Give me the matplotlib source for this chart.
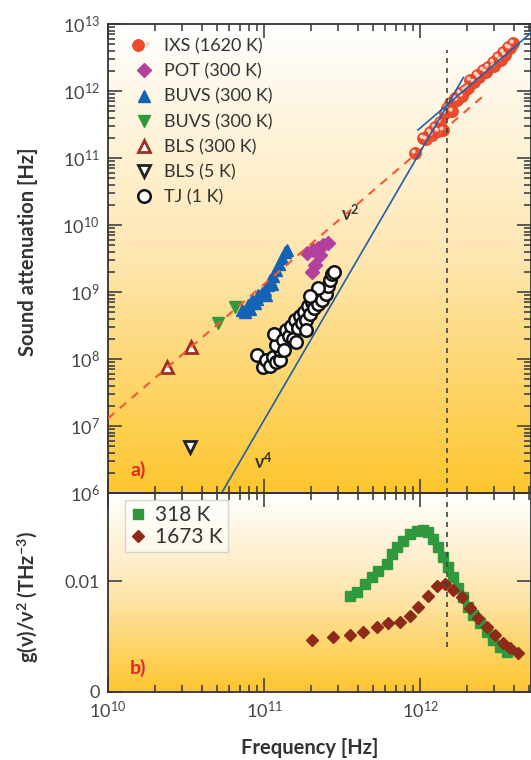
import numpy as np
import matplotlib.pyplot as plt
from matplotlib.colors import LinearSegmentedColormap
from matplotlib.legend_handler import HandlerTuple
from matplotlib.markers import MarkerStyle
from matplotlib.transforms import Affine2D
from matplotlib.ticker import LogLocator, NullFormatter, FixedLocator, NullLocator

plt.rcParams['font.family'] = ['Lato', 'DejaVu Sans']
plt.rcParams['font.size'] = 13
plt.rcParams['mathtext.fontset'] = 'custom'
plt.rcParams['mathtext.rm'] = 'Lato'
plt.rcParams['mathtext.it'] = 'Lato:italic'
plt.rcParams['mathtext.bf'] = 'Lato:bold'

# ---------------------------------------------------------------------------
# (a) sound attenuation vs frequency

# IXS (1620 K)
ixs_f = np.array([9.3e11, 1.045e12, 1.16e12, 1.25e12, 1.34e12, 1.40e12, 1.44e12,
                  1.50e12, 1.55e12, 1.60e12, 1.67e12, 1.74e12, 1.80e12, 1.94e12,
                  2.02e12, 2.09e12, 2.23e12, 2.32e12, 2.40e12, 2.53e12, 2.65e12,
                  2.73e12, 2.94e12, 3.00e12, 3.16e12, 3.30e12, 3.40e12, 3.50e12,
                  3.66e12, 3.80e12, 3.95e12, 1.10e12, 1.20e12, 1.30e12, 1.85e12])
ixs_a = np.array([1.19e11, 2.0e11, 2.45e11, 2.9e11, 3.45e11, 2.6e11, 4.7e11,
                  5.5e11, 6.6e11, 5.1e11, 7.9e11, 7.3e11, 9.3e11, 1.03e12,
                  1.1e12, 1.45e12, 1.35e12, 1.73e12, 1.6e12, 2.05e12, 1.9e12,
                  2.3e12, 2.7e12, 2.4e12, 3.2e12, 2.9e12, 3.8e12, 3.45e12,
                  4.55e12, 4.4e12, 5.2e12, 1.9e11, 2.2e11, 2.5e11, 8.4e11])

# POT (300 K)
pot_f = np.array([1.89e11, 2.06e11, 2.22e11, 2.39e11, 2.57e11, 2.29e11, 2.03e11, 2.12e11])
pot_a = np.array([3.8e9, 4.2e9, 4.5e9, 5.0e9, 5.4e9, 3.6e9, 2.0e9, 2.5e9])

# BUVS (300 K), up triangles
buvs_up_f = np.array([7.23e10, 7.6e10, 7.9e10, 8.4e10, 8.75e10, 9.2e10, 9.7e10,
                      1.01e11, 1.06e11, 1.09e11, 1.14e11, 1.19e11, 1.25e11,
                      1.30e11, 1.36e11, 1.40e11, 8.1e10, 9.0e10, 1.03e11, 1.12e11])
buvs_up_a = np.array([5.4e8, 5.0e8, 6.4e8, 7.6e8, 6.9e8, 9.0e8, 9.7e8,
                      1.07e9, 1.27e9, 1.5e9, 1.74e9, 2.1e9, 2.6e9,
                      3.2e9, 4.0e9, 4.3e9, 5.6e8, 7.8e8, 9.0e8, 1.3e9])

# BUVS (300 K), down triangles
buvs_dn_f = np.array([5.07e10, 6.5e10])
buvs_dn_a = np.array([3.5e8, 6.0e8])

# BLS (300 K) and BLS (5 K)
bls300_f = np.array([2.39e10, 3.4e10])
bls300_a = np.array([7.6e7, 1.5e8])
bls5_f = np.array([3.36e10])
bls5_a = np.array([4.9e6])

# TJ (1 K)
tj_f = np.array([9.0e10, 9.9e10, 1.03e11, 1.09e11, 1.14e11, 1.19e11, 1.27e11,
                 1.27e11, 1.19e11, 1.16e11, 1.33e11, 1.38e11, 1.45e11, 1.49e11,
                 1.53e11, 1.58e11, 1.65e11, 1.70e11, 1.75e11, 1.80e11, 1.86e11,
                 1.91e11, 1.97e11, 2.03e11, 2.09e11, 2.15e11, 2.22e11, 2.29e11,
                 2.35e11, 2.43e11, 2.50e11, 2.57e11, 2.65e11, 2.73e11, 2.81e11,
                 1.86e11, 1.60e11, 1.34e11, 2.22e11, 1.97e11])
tj_a = np.array([1.15e8, 7.6e7, 9.7e7, 7.9e7, 1.07e8, 9.0e7, 9.7e7,
                 1.36e8, 1.6e8, 2.4e8, 1.9e8, 2.7e8, 2.2e8, 3.1e8,
                 2.0e8, 3.8e8, 2.9e8, 4.4e8, 3.5e8, 5.0e8, 3.8e8,
                 6.2e8, 4.7e8, 7.1e8, 5.8e8, 8.1e8, 6.6e8, 9.0e8,
                 7.6e8, 1.07e9, 9.3e8, 1.23e9, 1.5e9, 1.86e9, 2.0e9,
                 2.7e8, 1.8e8, 1.35e8, 1.15e9, 8.7e8])

# power laws: amplitude at 1 THz and frequency span
nu2_amp, nu2_span = 1.3e11, (1e10, 2.7e12)
nu2_hi_amp, nu2_hi_span = 2.78e11, (9.7e11, 5.2e12)
nu4_amp, nu4_span = 1.22e11, (5.4e10, 1.9e12)
f_cross = 1.5e12

# ---------------------------------------------------------------------------
# (b) g(nu)/nu^2

dos318_f = np.array([3.56e11, 3.94e11, 4.44e11, 4.92e11, 5.38e11, 6.14e11, 6.6e11,
                     7.1e11, 7.8e11, 8.6e11, 9.55e11, 1.05e12, 1.13e12, 1.21e12,
                     1.30e12, 1.40e12, 1.51e12, 1.63e12, 1.75e12, 1.89e12, 2.03e12,
                     2.19e12, 2.43e12, 2.69e12, 2.94e12, 3.26e12, 3.61e12])
dos318_g = np.array([0.00864, 0.00909, 0.00973, 0.01036, 0.0109, 0.01155, 0.01245,
                     0.0131, 0.01364, 0.01427, 0.01455, 0.01464, 0.01445, 0.01382,
                     0.0131, 0.0122, 0.01127, 0.01036, 0.00945, 0.00855, 0.00773,
                     0.0070, 0.00627, 0.00545, 0.00473, 0.00409, 0.00364])

dos1673_f = np.array([2.03e11, 2.77e11, 3.56e11, 4.31e11, 5.3e11, 6.24e11, 7.45e11,
                      8.6e11, 9.7e11, 1.12e12, 1.28e12, 1.44e12, 1.63e12, 1.86e12,
                      2.09e12, 2.35e12, 2.69e12, 3.02e12, 3.4e12, 3.78e12, 4.25e12])
dos1673_g = np.array([0.00473, 0.0050, 0.00518, 0.00545, 0.0059, 0.00627, 0.00636,
                      0.0069, 0.00773, 0.00864, 0.00955, 0.00973, 0.00927, 0.00855,
                      0.00764, 0.00673, 0.0059, 0.00518, 0.00445, 0.0040, 0.00355])

# ---------------------------------------------------------------------------

fig = plt.figure(figsize=(5.31, 7.6), dpi=100)
rect1 = [0.2034, 0.3513, 0.7966, 0.6171]
rect2 = [0.2034, 0.0895, 0.7966, 0.2618]

# white-to-gold background behind each panel
bg_cmap = LinearSegmentedColormap.from_list('bg', ['#ffffff', '#fee6b0', '#fdc62e'])
for r in (rect1, rect2):
    bg = fig.add_axes(r, zorder=0)
    bg.imshow(np.linspace(0, 1, 256)[:, None], cmap=bg_cmap, aspect='auto',
              extent=[0, 1, 0, 1], origin='upper')
    bg.set_axis_off()

ax1 = fig.add_axes(rect1, zorder=1)
ax2 = fig.add_axes(rect2, zorder=1)
for ax in (ax1, ax2):
    ax.patch.set_alpha(0)
    ax.set_xscale('log')
    ax.set_xlim(1e10, 5.15e12)
    ax.xaxis.set_minor_locator(LogLocator(base=10, subs=np.arange(2, 10), numticks=50))
    ax.xaxis.set_minor_formatter(NullFormatter())
    ax.tick_params(which='both', direction='in', top=True, right=True,
                   color='#333333', width=1.1, labelcolor='#444444')
    ax.tick_params(which='major', length=10, pad=6)
    ax.tick_params(which='minor', length=5)
    for s in ax.spines.values():
        s.set_color('#333333')
        s.set_linewidth(1.3)

# ---- panel (a)
ax1.set_yscale('log')
ax1.set_ylim(1e6, 1e13)
ax1.yaxis.set_major_locator(LogLocator(base=10, numticks=20))
ax1.yaxis.set_minor_locator(LogLocator(base=10, subs=np.arange(2, 10), numticks=50))
ax1.yaxis.set_minor_formatter(NullFormatter())
ax1.tick_params(labelbottom=False)

f = np.geomspace(*nu2_span, 50)
ax1.plot(f, nu2_amp * (f / 1e12) ** 2, color='#f05a32', lw=1.5, dashes=(4, 3.5), zorder=5)
f = np.geomspace(*nu2_hi_span, 50)
ax1.plot(f, nu2_hi_amp * (f / 1e12) ** 2, color='#1f60aa', lw=1.2, zorder=5)
f = np.geomspace(*nu4_span, 50)
ax1.plot(f, nu4_amp * (f / 1e12) ** 4, color='#1f60aa', lw=1.2, zorder=5)
ax1.plot([f_cross, f_cross], [1e6, 4.1e12], color='#444444', lw=1.2, dashes=(3, 3), zorder=5)

h_ixs = ax1.plot(ixs_f, ixs_a, 'o', ms=8.5, mfc='#ee4a2c', mec='#e23d20', mew=0.6, zorder=3)[0]
shine = MarkerStyle('o', transform=Affine2D().translate(-0.45, 0.45))
h_shine = ax1.plot(ixs_f, ixs_a, ls='none', marker=shine, ms=3, mfc='#ffd2c4', mec='none', zorder=3)[0]
h_pot = ax1.plot(pot_f, pot_a, 'D', ms=7, color='#b3409c', zorder=3)[0]
h_bup = ax1.plot(buvs_up_f, buvs_up_a, '^', ms=8, color='#1463b5', zorder=3)[0]
h_bdn = ax1.plot(buvs_dn_f, buvs_dn_a, 'v', ms=8, color='#2f9a3c', zorder=3)[0]
h_b300 = ax1.plot(bls300_f, bls300_a, '^', ms=9, mfc='white', mec='#9a3020', mew=2, zorder=3)[0]
h_b5 = ax1.plot(bls5_f, bls5_a, 'v', ms=9, mfc='white', mec='#222222', mew=2, zorder=3)[0]
h_tj = ax1.plot(tj_f, tj_a, 'o', ms=9, mfc='white', mec='#111111', mew=1.8, zorder=3)[0]

ax1.legend([(h_ixs, h_shine), h_pot, h_bup, h_bdn, h_b300, h_b5, h_tj],
           ['IXS (1620 K)', 'POT (300 K)', 'BUVS (300 K)', 'BUVS (300 K)',
            'BLS (300 K)', 'BLS (5 K)', 'TJ (1 K)'],
           handler_map={tuple: HandlerTuple(ndivide=None, pad=0)},
           loc='upper left', bbox_to_anchor=(0.025, 1.0), frameon=False,
           handlelength=1.2, handletextpad=0.5, labelspacing=0.5,
           borderaxespad=0.4, labelcolor='#333333')

ax1.text(3.56e11, 1.5e10, r'ν$^{\mathbf{2}}$', fontweight='bold', color='#333333',
         ha='center', va='center')
ax1.text(9.9e10, 2.9e6, r'ν$^{\mathbf{4}}$', fontweight='bold', color='#333333',
         ha='center', va='center')
ax1.text(0.071, 0.049, 'a)', transform=ax1.transAxes, color='#e8262a', fontweight='bold',
         fontsize=14, ha='center', va='center')

# ---- panel (b)
ax2.set_ylim(0, 0.018)
ax2.yaxis.set_major_locator(FixedLocator([0, 0.01]))
ax2.yaxis.set_minor_locator(NullLocator())
ax2.set_yticklabels(['0', '0.01'])

ax2.plot([f_cross, f_cross], [0.0041, 0.018], color='#444444', lw=1.2, dashes=(3, 3), zorder=5)
h318 = ax2.plot(dos318_f, dos318_g, 's', ms=6.5, color='#2e9a3d', zorder=3)[0]
h1673 = ax2.plot(dos1673_f, dos1673_g, 'D', ms=6.5, color='#8e2b18', zorder=3)[0]
ax2.legend([h318, h1673], ['318 K', '1673 K'], loc='upper left',
           bbox_to_anchor=(0.04, 0.965), frameon=True, fancybox=False,
           edgecolor='#bbbbbb', facecolor='white', framealpha=0.6,
           handlelength=0.8, handletextpad=0.4, labelspacing=0.1,
           borderpad=0.25, borderaxespad=0.0, labelcolor='#333333', fontsize=15)

ax2.text(0.071, 0.12, 'b)', transform=ax2.transAxes, color='#e8262a', fontweight='bold',
         fontsize=14, ha='center', va='center')

# axis titles, placed on the figure
fig.text(28 / 531, 1 - 252 / 760, 'Sound attenuation [Hz]', rotation=90, fontsize=14.5,
         fontweight='bold', color='#333333', ha='center', va='center')
fig.text(28 / 531, 1 - 597 / 760, r'g(ν)/ν$^{\mathbf{2}}$ (THz$^{\mathbf{-3}}$)', rotation=90,
         fontsize=14.5, fontweight='bold', color='#333333', ha='center', va='center')
fig.text(310 / 531, 1 - 748 / 760, 'Frequency [Hz]', fontsize=14.5,
         fontweight='bold', color='#333333', ha='center', va='center')

fig.savefig('out.png', dpi=100)
